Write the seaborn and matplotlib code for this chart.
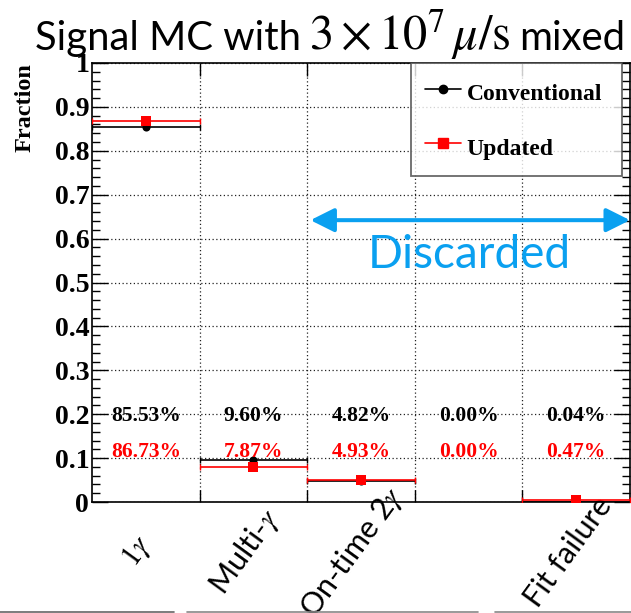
import matplotlib
matplotlib.use("Agg")
import matplotlib.pyplot as plt
import numpy as np
import pandas as pd
import seaborn as sns
from matplotlib.lines import Line2D
from matplotlib.ticker import MultipleLocator, FixedLocator, FuncFormatter
from matplotlib.transforms import ScaledTranslation

# --- data -------------------------------------------------------------
categories = [r"$1\gamma$", r"Multi-$\gamma$", r"On-time 2$\gamma$", "", "Fit failure"]
conventional_pct = [85.53, 9.60, 4.82, 0.00, 0.04]
updated_pct = [86.73, 7.87, 4.93, 0.00, 0.47]
series_names = ["Conventional", "Updated"]
y_tick_values = [0, 0.1, 0.2, 0.3, 0.4, 0.5, 0.6, 0.7, 0.8, 0.9, 1.0]

# --- style ------------------------------------------------------------
sns.set_theme(style="ticks")
plt.rcParams["font.family"] = ["Lato", "DejaVu Sans"]
plt.rcParams["mathtext.fontset"] = "stix"
plt.rcParams["axes.linewidth"] = 1.2
for key in ["text.color", "axes.labelcolor", "xtick.color", "ytick.color",
            "xtick.labelcolor", "ytick.labelcolor"]:
    plt.rcParams[key] = "black"

SERIF = ["Liberation Serif", "DejaVu Serif"]
BLUE = "#0aa0f0"
colors = {"Conventional": "black", "Updated": "red"}
markers = {"Conventional": "o", "Updated": "s"}
marker_area = {"Conventional": 34, "Updated": 50}

n_bins = len(categories)
centers = np.arange(n_bins) + 0.5
frames = []
for name, pct in zip(series_names, [conventional_pct, updated_pct]):
    frames.append(pd.DataFrame({"bin": centers, "category": categories,
                                "series": name, "pct": pct,
                                "fraction": np.array(pct) / 100.0}))
df = pd.concat(frames, ignore_index=True)

W, H = 631, 613
fig = plt.figure(figsize=(W / 100, H / 100), dpi=100)
ax = fig.add_axes([92 / W, 1 - 502 / H, 538 / W, 439 / H])
ax.set_facecolor("white")

# horizontal bin-width bars and markers for each series (empty bins skipped)
for name in series_names:
    sub = df[(df["series"] == name) & (df["fraction"] > 0)]
    ax.errorbar(sub["bin"], sub["fraction"], xerr=0.5, fmt="none",
                ecolor=colors[name], elinewidth=1.2, capsize=2.2,
                capthick=1.0, zorder=3 if name == "Conventional" else 4)
    sns.scatterplot(data=sub, x="bin", y="fraction", ax=ax,
                    color=colors[name], marker=markers[name],
                    s=marker_area[name], linewidth=0, legend=False,
                    zorder=5 if name == "Conventional" else 6)

# percentages written in each bin
for _, row in df.iterrows():
    ypos = 0.196 if row["series"] == "Conventional" else 0.114
    ax.text(row["bin"], ypos, f"{row['pct']:.2f}%", ha="center", va="center",
            color=colors[row["series"]], family=SERIF, fontweight="bold",
            fontsize=15.5, zorder=7)

# axes, ticks, grid
ax.set_xlim(0, n_bins)
ax.set_ylim(0, 1)
ax.xaxis.set_major_locator(FixedLocator(centers))
ax.xaxis.set_minor_locator(FixedLocator(np.arange(1, n_bins)))
ax.set_xticklabels(categories)
ax.yaxis.set_major_locator(FixedLocator(y_tick_values))
ax.yaxis.set_minor_locator(MultipleLocator(0.02))
ax.yaxis.set_major_formatter(FuncFormatter(lambda v, p: f"{v:g}"))

ax.tick_params(axis="x", which="major", length=0, pad=36, labelsize=22)
ax.tick_params(axis="x", which="minor", direction="in", length=9,
               width=1.0, top=True, bottom=True)
ax.tick_params(axis="y", which="major", direction="in", length=11.5,
               width=1.0, left=True, right=True, pad=2, labelsize=20)
ax.tick_params(axis="y", which="minor", direction="in", length=5.8,
               width=1.0, left=True, right=True)
for lab in ax.get_yticklabels():
    lab.set_family(SERIF)
    lab.set_fontweight("bold")
shift = ScaledTranslation(-8 / 100, 0, fig.dpi_scale_trans)
for lab in ax.get_xticklabels():
    lab.set_rotation(54)
    lab.set_ha("center")
    lab.set_va("center")
    lab.set_transform(lab.get_transform() + shift)

ax.grid(False)
ax.grid(True, which="minor", axis="x", color="#222222", linestyle=(0, (1, 2)), lw=0.9)
ax.grid(True, which="major", axis="y", color="#222222", linestyle=(0, (1, 2)), lw=0.9)
for sp in ax.spines.values():
    sp.set_color("black")

ax.set_xlabel("")
ax.set_ylabel("Fraction", loc="top", family=SERIF, fontweight="bold",
              fontsize=17.5, labelpad=14)

# legend
handles = [Line2D([], [], color=colors[n], lw=1.2, marker=markers[n],
                  markersize=6.5 if n == "Updated" else 6) for n in series_names]
leg = ax.legend(handles, series_names, loc="upper left",
                bbox_to_anchor=(0.593, 0.745, 0.392, 0.255), mode="expand",
                frameon=True, fancybox=False, edgecolor="#444444",
                handlelength=1.5, handletextpad=0.25, borderpad=0.6,
                handleheight=1.6, labelspacing=1.03, borderaxespad=0,
                prop={"family": SERIF, "weight": "bold", "size": 17})
leg.get_frame().set_linewidth(1.3)
leg.set_zorder(10)

# discarded categories marker
ax.annotate("", xy=(2.03, 0.642), xytext=(5.0, 0.642),
            arrowprops=dict(arrowstyle="<|-|>,head_length=0.72,head_width=0.36",
                            mutation_scale=20, lw=2.9, color=BLUE,
                            shrinkA=0, shrinkB=0), annotation_clip=False, zorder=8)
ax.text(3.51, 0.563, "Discarded", color=BLUE, fontsize=33, ha="center",
        va="center", zorder=8)

# title built from three pieces sharing one baseline, fitted to its span
base_y = 1 - 50 / H
title_left, title_right = 35, 625
sans_size, math_size = 28, 34
t1 = fig.text(title_left / W, base_y, "Signal MC with", fontsize=sans_size,
              ha="left", va="baseline")
t2 = fig.text(0, base_y, r"$3\times10^{7}\,\mu/\mathrm{s}$", fontsize=math_size,
              ha="left", va="baseline")
t3 = fig.text(0, base_y, "mixed", fontsize=sans_size, ha="left", va="baseline")
renderer = fig.canvas.get_renderer()


def place_title(scale):
    t1.set_fontsize(sans_size * scale)
    t2.set_fontsize(math_size * scale)
    t3.set_fontsize(sans_size * scale)
    gap = 8 * scale
    x1 = t1.get_window_extent(renderer).x1
    t2.set_x((x1 + gap) / W)
    x2 = t2.get_window_extent(renderer).x1
    t3.set_x((x2 + gap) / W)
    return t3.get_window_extent(renderer).x1


end = place_title(1.0)
place_title((title_right - title_left) / (end - title_left))

# separator rules along the bottom edge
for xa, xb, c in [(0, 174, "#666666"), (187, 478, "#888888"), (495, 631, "#888888")]:
    fig.add_artist(Line2D([xa / W, xb / W], [0.8 / H, 0.8 / H], color=c, lw=1.2))

fig.savefig("out.png", dpi=100)
